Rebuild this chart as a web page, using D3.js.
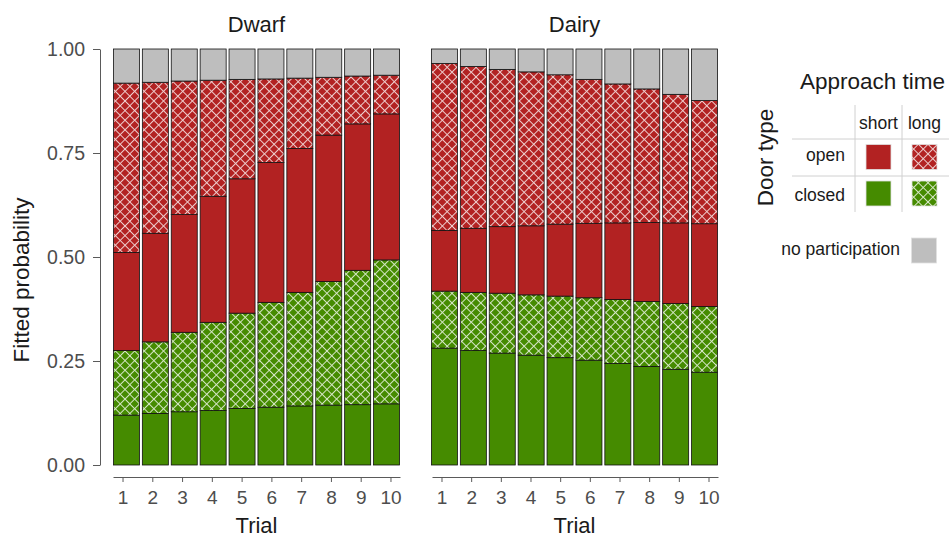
<!DOCTYPE html>
<html><head><meta charset="utf-8">
<script src="https://cdn.jsdelivr.net/npm/d3@7"></script>
<style>
body{margin:0;background:#fff}
text{font-family:"Liberation Sans",Arial,Helvetica,sans-serif}
</style>
</head><body>
<svg id="chart" width="949" height="539"></svg>
<script>
// ---------- data ----------
const trials = [1, 2, 3, 4, 5, 6, 7, 8, 9, 10];
const panels = ["Dwarf", "Dairy"];
const yTicks = [0, 0.25, 0.5, 0.75, 1];
const categories = ["closedShort", "closedLong", "openShort", "openLong", "none"];

// Dwarf
const dwarfClosedShort = [0.120, 0.124, 0.128, 0.131, 0.136, 0.139, 0.142, 0.144, 0.145, 0.147];
const dwarfClosedLong  = [0.155, 0.172, 0.191, 0.212, 0.229, 0.252, 0.273, 0.297, 0.323, 0.346];
const dwarfOpenShort   = [0.236, 0.261, 0.283, 0.303, 0.323, 0.336, 0.346, 0.352, 0.352, 0.351];
const dwarfOpenLong    = [0.407, 0.363, 0.321, 0.279, 0.239, 0.201, 0.169, 0.139, 0.115, 0.093];
const dwarfNone        = [0.082, 0.080, 0.077, 0.075, 0.073, 0.072, 0.070, 0.068, 0.065, 0.063];

// Dairy
const dairyClosedShort = [0.281, 0.275, 0.269, 0.264, 0.258, 0.252, 0.244, 0.237, 0.230, 0.223];
const dairyClosedLong  = [0.137, 0.140, 0.144, 0.145, 0.148, 0.150, 0.154, 0.156, 0.158, 0.158];
const dairyOpenShort   = [0.146, 0.154, 0.160, 0.166, 0.173, 0.179, 0.184, 0.190, 0.194, 0.199];
const dairyOpenLong    = [0.401, 0.389, 0.378, 0.370, 0.359, 0.346, 0.334, 0.321, 0.309, 0.296];
const dairyNone        = [0.035, 0.042, 0.049, 0.055, 0.062, 0.073, 0.084, 0.096, 0.109, 0.124];

const panelSeries = {
  Dwarf: [dwarfClosedShort, dwarfClosedLong, dwarfOpenShort, dwarfOpenLong, dwarfNone],
  Dairy: [dairyClosedShort, dairyClosedLong, dairyOpenShort, dairyOpenLong, dairyNone]
};

// ---------- styling ----------
const RED = "#B22222", GREEN = "#458B00", GREY = "#BEBEBE";
const fills = {
  closedShort: GREEN, closedLong: "url(#hatchGreen)",
  openShort: RED, openLong: "url(#hatchRed)", none: GREY
};
const axisCol = "#5a5a5a", tickTextCol = "#4d4d4d";

const svg = d3.select("#chart");
const defs = svg.append("defs");
const s = 6.8;
function hatch(id, color) {
  const p = defs.append("pattern").attr("id", id)
    .attr("patternUnits", "userSpaceOnUse")
    .attr("width", s).attr("height", s)
    .attr("patternTransform", "rotate(45)");
  p.append("rect").attr("width", s).attr("height", s).attr("fill", color);
  p.append("path").attr("d", `M0,${s/2}H${s}M${s/2},0V${s}`)
    .attr("stroke", "#fff").attr("stroke-opacity", 0.78).attr("stroke-width", 1);
}
hatch("hatchRed", RED);
hatch("hatchGreen", GREEN);

const y = d3.scaleLinear().domain([0, 1]).range([465, 49]);
const panelRanges = { Dwarf: [112, 401], Dairy: [430, 719] };
const axisRanges = { Dwarf: [113, 400], Dairy: [432, 718] };

panels.forEach(name => {
  const rows = trials.map((t, i) => {
    const r = { trial: t };
    categories.forEach((c, k) => r[c] = panelSeries[name][k][i]);
    return r;
  });
  const stacked = d3.stack().keys(categories)(rows);
  const x = d3.scaleBand().domain(trials).range(panelRanges[name])
    .paddingInner(0.1).paddingOuter(0.05);

  const g = svg.append("g");
  g.selectAll("g.layer").data(stacked).join("g").attr("class", "layer")
    .attr("fill", d => fills[d.key])
    .selectAll("rect").data(d => d).join("rect")
    .attr("x", d => x(d.data.trial))
    .attr("width", x.bandwidth())
    .attr("y", d => y(d[1]))
    .attr("height", d => y(d[0]) - y(d[1]))
    .attr("stroke", "#111").attr("stroke-width", 0.8);

  // x axis
  const xa = d3.scalePoint().domain(trials).range(axisRanges[name]).padding(0.32);
  const ax = svg.append("g").attr("transform", "translate(0,477)")
    .call(d3.axisBottom(xa).tickSize(5).tickSizeOuter(0).tickPadding(8.5));
  ax.select(".domain").attr("stroke", axisCol);
  ax.selectAll(".tick line").attr("stroke", axisCol);
  ax.selectAll(".tick text").attr("fill", tickTextCol).style("font-size", "19px")
    .style("font-family", '"Liberation Sans",Arial,sans-serif');

  const cx = (panelRanges[name][0] + panelRanges[name][1]) / 2;
  svg.append("text").attr("x", cx).attr("y", 32).attr("text-anchor", "middle")
    .style("font-size", "22px").attr("fill", "#1a1a1a").text(name);
  svg.append("text").attr("x", cx).attr("y", 533).attr("text-anchor", "middle")
    .style("font-size", "22px").attr("fill", "#1a1a1a").text("Trial");
});

// y axis
const ay = svg.append("g").attr("transform", "translate(100,0)")
  .call(d3.axisLeft(y).tickValues(yTicks).tickFormat(d3.format(".2f"))
    .tickSize(7).tickSizeOuter(0).tickPadding(8));
ay.select(".domain").attr("stroke", axisCol);
ay.selectAll(".tick line").attr("stroke", axisCol);
ay.selectAll(".tick text").attr("fill", tickTextCol).style("font-size", "19.5px")
  .style("font-family", '"Liberation Sans",Arial,sans-serif');

svg.append("text").attr("transform", "translate(29,280) rotate(-90)")
  .attr("text-anchor", "middle").style("font-size", "22.5px").attr("fill", "#1a1a1a")
  .text("Fitted probability");

// ---------- legend ----------
const lg = svg.append("g");
const timeLevels = ["short", "long"];
const doorLevels = ["open", "closed"];
const colX = { short: 878.5, long: 924.5 };
const rowY = { open: 157, closed: 193.5 };
const legendFill = {
  open: { short: RED, long: "url(#hatchRed)" },
  closed: { short: GREEN, long: "url(#hatchGreen)" }
};
lg.append("text").attr("x", 800).attr("y", 89).style("font-size", "22.5px")
  .attr("fill", "#1a1a1a").text("Approach time");
lg.append("text").attr("transform", "translate(773,157.5) rotate(-90)")
  .attr("text-anchor", "middle").style("font-size", "22.5px").attr("fill", "#1a1a1a")
  .text("Door type");
[855, 902].forEach(xv => lg.append("line").attr("x1", xv).attr("x2", xv)
  .attr("y1", 105).attr("y2", 212).attr("stroke", "#d0d0d0").attr("stroke-width", 1));
[139, 176].forEach(yv => lg.append("line").attr("x1", 792).attr("x2", 949)
  .attr("y1", yv).attr("y2", yv).attr("stroke", "#d0d0d0").attr("stroke-width", 1));
timeLevels.forEach(t => lg.append("text").attr("x", colX[t]).attr("y", 128.5)
  .attr("text-anchor", "middle").style("font-size", "17.5px").attr("fill", "#1a1a1a").text(t));
doorLevels.forEach(d => {
  lg.append("text").attr("x", 845).attr("y", rowY[d] + 5.5 + (d === "closed" ? 1.5 : -2))
    .attr("text-anchor", "end").style("font-size", "17.5px").attr("fill", "#1a1a1a").text(d);
  timeLevels.forEach(t => lg.append("rect")
    .attr("x", colX[t] - 12.5).attr("y", rowY[d] - 12.5).attr("width", 25).attr("height", 25)
    .attr("fill", legendFill[d][t]).attr("stroke", "#e0e0e0").attr("stroke-width", 0.8));
});
lg.append("text").attr("x", 900).attr("y", 255).attr("text-anchor", "end")
  .style("font-size", "17.5px").attr("fill", "#1a1a1a").text("no participation");
lg.append("rect").attr("x", 911.5).attr("y", 238).attr("width", 25).attr("height", 25)
  .attr("fill", GREY).attr("stroke", "#e0e0e0").attr("stroke-width", 0.8);
</script>
</body></html>
